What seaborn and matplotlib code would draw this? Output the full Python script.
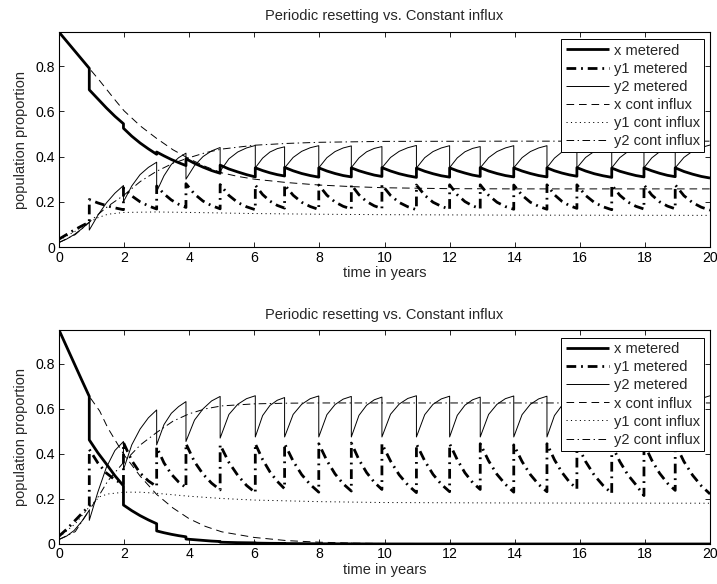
import matplotlib
matplotlib.use("Agg")
import matplotlib.pyplot as plt
import seaborn as sns
from matplotlib.ticker import FuncFormatter

# ---------------- data ----------------
# reset times (years), same schedule in both panels
JUMPS = [0.93, 1.98, 3.00, 3.90, 4.95, 6.03, 6.93, 7.98, 8.98, 9.92,
         10.98, 12.00, 12.94, 13.97, 14.99, 15.91, 16.98, 17.97, 18.93]
T_END = 20.0
# each metered row = values at 0, 1/4, 1/2, 3/4 and end of an inter-reset interval
SEG_FRAC = [0.0, 0.25, 0.5, 0.75, 1.0]

# ---- panel 1 ----
X_MET_1 = [
    [0.950, 0.910, 0.870, 0.830, 0.790],
    [0.695, 0.655, 0.615, 0.578, 0.545],
    [0.525, 0.490, 0.460, 0.434, 0.410],
    [0.420, 0.403, 0.387, 0.373, 0.360],
    [0.390, 0.370, 0.353, 0.338, 0.326],
    [0.362, 0.345, 0.332, 0.320, 0.310],
    [0.350, 0.338, 0.328, 0.320, 0.314],
    [0.352, 0.337, 0.325, 0.316, 0.309],
    [0.350, 0.336, 0.325, 0.316, 0.310],
    [0.350, 0.337, 0.327, 0.318, 0.312],
    [0.351, 0.336, 0.324, 0.315, 0.308],
    [0.349, 0.335, 0.324, 0.315, 0.309],
    [0.350, 0.337, 0.327, 0.318, 0.312],
    [0.351, 0.336, 0.325, 0.316, 0.310],
    [0.350, 0.336, 0.325, 0.316, 0.310],
    [0.350, 0.337, 0.327, 0.319, 0.313],
    [0.351, 0.336, 0.324, 0.315, 0.308],
    [0.349, 0.335, 0.325, 0.316, 0.310],
    [0.350, 0.337, 0.326, 0.317, 0.311],
    [0.350, 0.334, 0.322, 0.312, 0.305],
]
Y1_MET_1 = [
    [0.035, 0.055, 0.075, 0.093, 0.110],
    [0.210, 0.195, 0.183, 0.173, 0.165],
    [0.262, 0.226, 0.200, 0.182, 0.168],
    [0.270, 0.235, 0.208, 0.189, 0.175],
    [0.280, 0.234, 0.203, 0.183, 0.169],
    [0.276, 0.228, 0.197, 0.178, 0.165],
    [0.274, 0.232, 0.203, 0.184, 0.172],
    [0.275, 0.229, 0.198, 0.179, 0.166],
    [0.274, 0.229, 0.199, 0.180, 0.168],
    [0.275, 0.231, 0.201, 0.182, 0.170],
    [0.275, 0.228, 0.197, 0.178, 0.165],
    [0.274, 0.229, 0.198, 0.180, 0.167],
    [0.275, 0.231, 0.201, 0.182, 0.170],
    [0.275, 0.229, 0.198, 0.179, 0.167],
    [0.274, 0.229, 0.198, 0.180, 0.167],
    [0.275, 0.231, 0.202, 0.183, 0.171],
    [0.275, 0.228, 0.197, 0.178, 0.165],
    [0.274, 0.229, 0.199, 0.180, 0.168],
    [0.275, 0.230, 0.200, 0.181, 0.169],
    [0.275, 0.227, 0.196, 0.176, 0.163],
]
Y2_MET_1 = [
    [0.020, 0.035, 0.055, 0.080, 0.110],
    [0.075, 0.140, 0.195, 0.238, 0.272],
    [0.200, 0.270, 0.320, 0.352, 0.375],
    [0.245, 0.315, 0.365, 0.395, 0.415],
    [0.300, 0.360, 0.400, 0.425, 0.440],
    [0.335, 0.390, 0.420, 0.438, 0.449],
    [0.350, 0.393, 0.420, 0.435, 0.443],
    [0.350, 0.396, 0.423, 0.439, 0.448],
    [0.350, 0.395, 0.422, 0.438, 0.447],
    [0.351, 0.394, 0.421, 0.436, 0.444],
    [0.350, 0.396, 0.423, 0.439, 0.449],
    [0.349, 0.395, 0.422, 0.438, 0.448],
    [0.351, 0.394, 0.421, 0.436, 0.444],
    [0.350, 0.395, 0.422, 0.438, 0.448],
    [0.350, 0.395, 0.422, 0.438, 0.448],
    [0.351, 0.393, 0.420, 0.435, 0.443],
    [0.350, 0.396, 0.423, 0.440, 0.450],
    [0.350, 0.395, 0.422, 0.437, 0.446],
    [0.350, 0.394, 0.421, 0.437, 0.445],
    [0.350, 0.396, 0.424, 0.440, 0.451],
]
T_CONT_X_1 = [0, 0.5, 0.93, 1.25, 1.5, 1.75, 2, 2.5, 3, 3.5, 4, 4.5, 5, 5.5, 6,
              7, 8, 9, 10, 12, 14, 16, 18, 20]
X_CONT_1 = [0.95, 0.865, 0.79, 0.735, 0.69, 0.645, 0.602, 0.535, 0.48, 0.43,
            0.39, 0.356, 0.328, 0.312, 0.300, 0.285, 0.274, 0.267, 0.262,
            0.258, 0.257, 0.257, 0.257, 0.257]
T_CONT_Y1_1 = [0, 0.5, 0.93, 1.2, 1.5, 2, 3, 4, 6, 8, 10, 14, 20]
Y1_CONT_1 = [0.03, 0.07, 0.11, 0.13, 0.145, 0.153, 0.155, 0.153, 0.148,
             0.145, 0.143, 0.141, 0.140]
T_CONT_Y2_1 = [0, 0.5, 0.93, 1.25, 1.5, 2, 2.5, 3, 3.5, 4, 4.5, 5, 6, 7, 8,
               10, 14, 20]
Y2_CONT_1 = [0.02, 0.055, 0.11, 0.15, 0.18, 0.23, 0.29, 0.335, 0.37, 0.395,
             0.417, 0.433, 0.450, 0.458, 0.463, 0.467, 0.468, 0.468]

# ---- panel 2 ----
X_MET_2 = [
    [0.950, 0.876, 0.802, 0.728, 0.655],
    [0.462, 0.405, 0.355, 0.303, 0.258],
    [0.173, 0.148, 0.126, 0.107, 0.090],
    [0.058, 0.050, 0.043, 0.037, 0.032],
    [0.022, 0.019, 0.016, 0.013, 0.011],
    [0.008, 0.007, 0.006, 0.0055, 0.005],
    [0.004, 0.0035, 0.003, 0.0028, 0.0025],
    [0.002, 0.0018, 0.0016, 0.0014, 0.0012],
    [0.001, 0.0009, 0.0008, 0.0007, 0.0006],
    [0.0005, 0.0005, 0.0004, 0.0004, 0.0003],
    [0.0003, 0.0002, 0.0002, 0.0002, 0.0001],
    [0.0001, 0.0001, 0.0001, 0.0001, 0.0001],
    [0.0, 0.0, 0.0, 0.0, 0.0],
    [0.0, 0.0, 0.0, 0.0, 0.0],
    [0.0, 0.0, 0.0, 0.0, 0.0],
    [0.0, 0.0, 0.0, 0.0, 0.0],
    [0.0, 0.0, 0.0, 0.0, 0.0],
    [0.0, 0.0, 0.0, 0.0, 0.0],
    [0.0, 0.0, 0.0, 0.0, 0.0],
    [0.0, 0.0, 0.0, 0.0, 0.0],
]
Y1_MET_2 = [
    [0.035, 0.065, 0.100, 0.135, 0.168],
    [0.420, 0.360, 0.315, 0.285, 0.265],
    [0.450, 0.370, 0.315, 0.280, 0.255],
    [0.430, 0.360, 0.310, 0.275, 0.250],
    [0.445, 0.365, 0.310, 0.270, 0.240],
    [0.440, 0.362, 0.305, 0.260, 0.228],
    [0.445, 0.375, 0.320, 0.278, 0.245],
    [0.445, 0.368, 0.308, 0.264, 0.230],
    [0.445, 0.370, 0.311, 0.267, 0.235],
    [0.448, 0.374, 0.317, 0.274, 0.242],
    [0.445, 0.368, 0.307, 0.262, 0.228],
    [0.444, 0.369, 0.309, 0.265, 0.232],
    [0.445, 0.374, 0.316, 0.273, 0.242],
    [0.445, 0.369, 0.309, 0.265, 0.230],
    [0.440, 0.366, 0.308, 0.264, 0.232],
    [0.445, 0.374, 0.318, 0.275, 0.245],
    [0.444, 0.366, 0.305, 0.260, 0.225],
    [0.440, 0.366, 0.307, 0.263, 0.215],
    [0.445, 0.372, 0.314, 0.270, 0.238],
    [0.445, 0.366, 0.305, 0.258, 0.222],
]
Y2_MET_2 = [
    [0.020, 0.035, 0.060, 0.100, 0.150],
    [0.105, 0.230, 0.340, 0.415, 0.455],
    [0.330, 0.440, 0.510, 0.560, 0.595],
    [0.440, 0.530, 0.580, 0.610, 0.632],
    [0.455, 0.550, 0.600, 0.635, 0.655],
    [0.470, 0.575, 0.620, 0.645, 0.658],
    [0.475, 0.570, 0.615, 0.638, 0.650],
    [0.475, 0.575, 0.620, 0.645, 0.657],
    [0.475, 0.574, 0.619, 0.643, 0.655],
    [0.475, 0.571, 0.616, 0.640, 0.652],
    [0.475, 0.576, 0.621, 0.646, 0.658],
    [0.475, 0.574, 0.620, 0.644, 0.656],
    [0.475, 0.571, 0.616, 0.640, 0.652],
    [0.475, 0.575, 0.620, 0.645, 0.657],
    [0.475, 0.574, 0.620, 0.644, 0.656],
    [0.475, 0.570, 0.615, 0.639, 0.651],
    [0.475, 0.576, 0.621, 0.646, 0.658],
    [0.475, 0.573, 0.619, 0.643, 0.655],
    [0.475, 0.572, 0.617, 0.642, 0.654],
    [0.475, 0.576, 0.621, 0.646, 0.658],
]
T_CONT_X_2 = [0, 0.5, 0.93, 1.25, 1.5, 1.75, 2, 2.5, 3, 3.5, 4, 4.5, 5, 6, 7,
              8, 9, 10, 12, 14, 20]
X_CONT_2 = [0.95, 0.79, 0.655, 0.59, 0.515, 0.455, 0.395, 0.30, 0.22, 0.16,
            0.112, 0.078, 0.054, 0.029, 0.015, 0.008, 0.004, 0.002, 0.001,
            0.0, 0.0]
T_CONT_Y1_2 = [0, 0.5, 0.93, 1.25, 1.5, 2, 2.5, 3, 4, 5, 6, 8, 10, 14, 20]
Y1_CONT_2 = [0.03, 0.09, 0.165, 0.21, 0.222, 0.23, 0.23, 0.225, 0.212,
             0.202, 0.195, 0.188, 0.184, 0.182, 0.181]
T_CONT_Y2_2 = [0, 0.5, 0.93, 1.25, 1.5, 2, 2.5, 3, 3.5, 4, 4.5, 5, 6, 7, 8,
               10, 20]
Y2_CONT_2 = [0.02, 0.055, 0.15, 0.22, 0.28, 0.365, 0.44, 0.495, 0.545, 0.578,
             0.600, 0.613, 0.622, 0.625, 0.626, 0.626, 0.626]

LABELS = ["x metered", "y1 metered", "y2 metered",
          "x cont influx", "y1 cont influx", "y2 cont influx"]
TITLE = "Periodic resetting vs. Constant influx"
XLABEL = "time in years"
YLABEL = "population proportion"

# ---------------- style ----------------
sns.set_style("ticks")
plt.rcParams["font.family"] = ["Liberation Sans", "DejaVu Sans"]
plt.rcParams.update({
    "xtick.direction": "in", "ytick.direction": "in",
    "xtick.top": True, "ytick.right": True,
    "xtick.major.size": 3.5, "ytick.major.size": 3.5,
    "xtick.major.width": 0.6, "ytick.major.width": 0.6,
    "xtick.major.pad": 2.5, "ytick.major.pad": 3.0,
    "axes.linewidth": 0.8, "axes.edgecolor": "black",
    "xtick.color": "black", "ytick.color": "black",
    "font.size": 10.5, "xtick.labelsize": 10.2, "ytick.labelsize": 10.2,
    "lines.scale_dashes": False,
    "lines.solid_capstyle": "butt", "lines.dash_capstyle": "butt",
})

THICK, THIN = 2.0, 0.7
STYLES = [
    dict(lw=THICK, ls="-"),
    dict(lw=THICK, ls=(0, (7, 3.5, 1.3, 3.5))),
    dict(lw=THIN, ls="-"),
    dict(lw=THIN, ls=(0, (5.5, 3.5))),
    dict(lw=THIN, ls=(0, (0.8, 2.4))),
    dict(lw=THIN, ls=(0, (5.5, 2.5, 1, 2.5))),
]


def metered_path(rows):
    edges = [0.0] + JUMPS + [T_END]
    ts, vs = [], []
    for k, row in enumerate(rows):
        a, b = edges[k], edges[k + 1]
        for f, v in zip(SEG_FRAC, row):
            ts.append(a + f * (b - a))
            vs.append(v)
    return ts, vs


def draw_panel(ax, met, cont, legend_top, title_pad):
    series = [metered_path(r) for r in met] + list(cont)
    order = [3, 4, 5, 0, 1, 2]
    handles = {}
    for i in order:
        ts, vs = series[i]
        sns.lineplot(x=ts, y=vs, ax=ax, estimator=None, sort=False,
                     color="black", label=LABELS[i], legend=False,
                     **STYLES[i])
        handles[i] = ax.get_lines()[-1]
    ax.set_xlim(0, 20)
    ax.set_ylim(0, 0.95)
    ax.set_xticks(range(0, 21, 2))
    ax.set_yticks([0, 0.2, 0.4, 0.6, 0.8])
    ax.yaxis.set_major_formatter(FuncFormatter(lambda v, p: "0" if v == 0 else f"{v:g}"))
    ax.set_title(TITLE, fontsize=10.5, pad=title_pad)
    ax.set_xlabel(XLABEL, fontsize=10.5, labelpad=1)
    ax.set_ylabel(YLABEL, fontsize=10.5, labelpad=5)
    for s in ax.spines.values():
        s.set_visible(True)
    leg = ax.legend([handles[i] for i in range(6)], LABELS, loc="upper right",
                    bbox_to_anchor=(0.991, legend_top), fontsize=10.5,
                    handlelength=2.95, handletextpad=0.35, labelspacing=0.28,
                    borderpad=0.3, borderaxespad=0.0, fancybox=False,
                    framealpha=1.0, edgecolor="black")
    leg.get_frame().set_linewidth(0.7)


fig = plt.figure(figsize=(7.17, 5.84), dpi=100)
ax1 = fig.add_axes([0.0823, 0.577, 0.908, 0.368])
ax2 = fig.add_axes([0.0823, 0.0685, 0.908, 0.3665])

draw_panel(ax1, [X_MET_1, Y1_MET_1, Y2_MET_1],
           [(T_CONT_X_1, X_CONT_1), (T_CONT_Y1_1, Y1_CONT_1), (T_CONT_Y2_1, Y2_CONT_1)],
           0.967, 8.5)
draw_panel(ax2, [X_MET_2, Y1_MET_2, Y2_MET_2],
           [(T_CONT_X_2, X_CONT_2), (T_CONT_Y1_2, Y1_CONT_2), (T_CONT_Y2_2, Y2_CONT_2)],
           0.963, 8.0)

fig.savefig("out.png", dpi=100)
